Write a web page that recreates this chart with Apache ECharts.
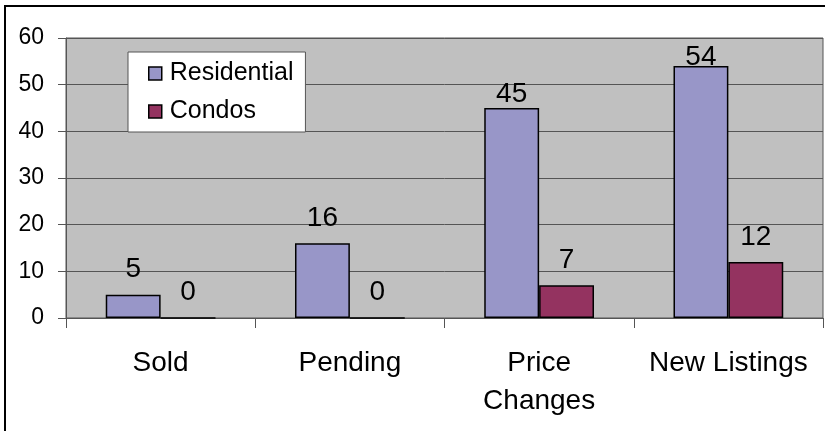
<!DOCTYPE html>
<html>
<head>
<meta charset="utf-8">
<script src="https://cdn.jsdelivr.net/npm/echarts@6/dist/echarts.min.js"></script>
<style>html,body{margin:0;padding:0;background:#fff}#c{width:825px;height:431px}</style>
</head>
<body>
<div id="c"></div>
<script>
var categories = ['Sold', 'Pending', 'Price\nChanges', 'New Listings'];
var residential = [5, 16, 45, 54];
var condos = [0, 0, 7, 12];
var yTicks = [0, 10, 20, 30, 40, 50, 60];

var chart = echarts.init(document.getElementById('c'), null, {renderer: 'canvas'});
var font = 'Liberation Sans, Arial, sans-serif';

// label placement (style only): Excel pulls labels of tall bars closer to the bar
function labelFor(v) {
  var d = 11;
  if (v >= 54) d = -5; else if (v >= 45) d = 0;
  return {show: true, position: 'top', distance: d, color: '#000', fontSize: 28, fontFamily: font};
}
function build(values) {
  return values.map(function (v) { return {value: v, label: labelFor(v)}; });
}

chart.setOption({
  animation: false,
  backgroundColor: '#fff',
  graphic: [{type: 'rect', shape: {x: 5, y: 6, width: 900, height: 500}, style: {fill: 'none', stroke: '#000', lineWidth: 2}, z: 100}],
  grid: {left: 66, right: 2, top: 38, bottom: 113, show: true, backgroundColor: '#C0C0C0', borderColor: '#555', borderWidth: 1},
  legend: {
    orient: 'vertical', left: 128, top: 52,
    backgroundColor: '#fff', borderColor: '#555', borderWidth: 1,
    padding: [9, 12, 8, 20], itemGap: 13, itemWidth: 13, itemHeight: 13,
    icon: 'rect',
    itemStyle: {borderColor: '#000', borderWidth: 1.5},
    textStyle: {fontSize: 25, fontFamily: font, color: '#000', padding: [0, 0, 0, 3]},
    data: ['Residential', 'Condos']
  },
  xAxis: {
    type: 'category', data: categories,
    axisLine: {lineStyle: {color: '#555', width: 1}},
    axisTick: {show: true, length: 10, lineStyle: {color: '#555'}},
    axisLabel: {fontSize: 28, fontFamily: font, color: '#000', margin: 26, lineHeight: 38, interval: 0}
  },
  yAxis: {
    type: 'value', min: yTicks[0], max: yTicks[yTicks.length - 1], interval: 10,
    axisLine: {show: true, lineStyle: {color: '#555'}},
    axisTick: {show: true, length: 8, lineStyle: {color: '#555'}},
    splitLine: {lineStyle: {color: '#555', width: 1}},
    axisLabel: {fontSize: 23, fontFamily: font, color: '#000', margin: 22}
  },
  series: [
    {name: 'Residential', type: 'bar', data: build(residential), barGap: '0%', barCategoryGap: '42%',
     itemStyle: {color: '#9896C8', borderColor: '#000', borderWidth: 1.5}},
    {name: 'Condos', type: 'bar', data: build(condos),
     itemStyle: {color: '#943360', borderColor: '#000', borderWidth: 1.5}}
  ]
});
</script>
</body>
</html>
